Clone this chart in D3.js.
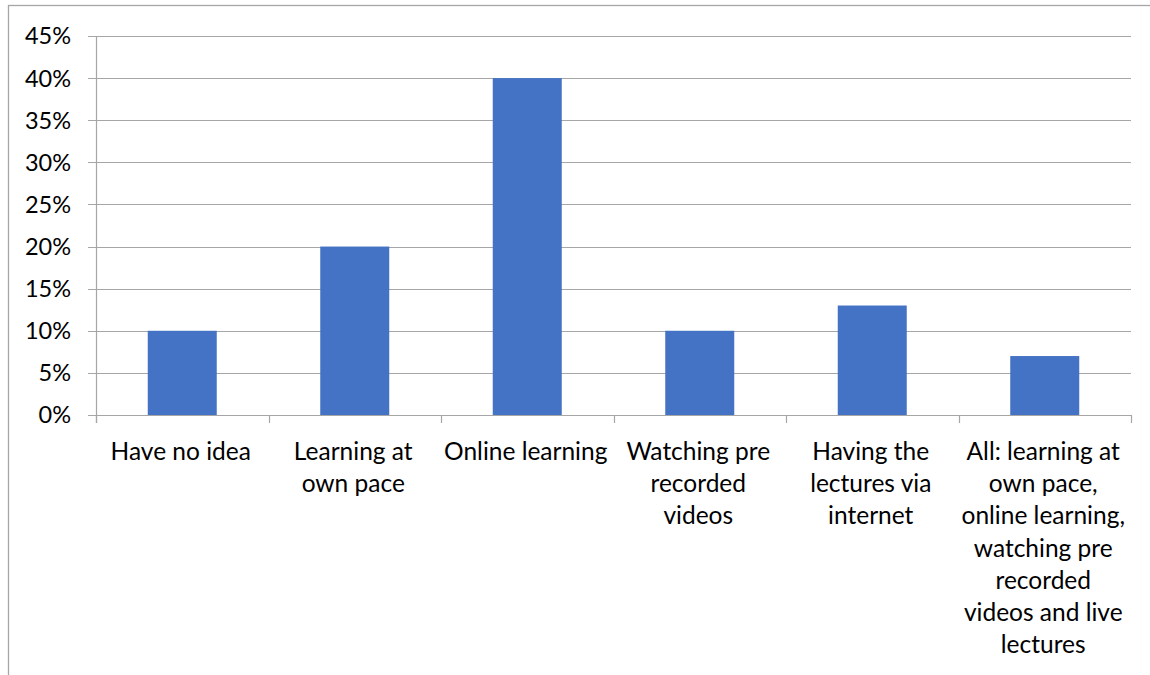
<!DOCTYPE html>
<html><head><meta charset="utf-8">
<script src="https://cdn.jsdelivr.net/npm/d3@7"></script>
<style>body{margin:0;background:#fff;} svg{display:block;}</style>
</head><body>
<svg id="c" width="1150" height="675"></svg>
<script>
const categories = [
  ["Have no idea"],
  ["Learning at", "own pace"],
  ["Online learning"],
  ["Watching pre", "recorded", "videos"],
  ["Having the", "lectures via", "internet"],
  ["All: learning at", "own pace,", "online learning,", "watching pre", "recorded", "videos and live", "lectures"]
];
const values = [10, 20, 40, 10, 13, 7];
const yTicks = [0, 5, 10, 15, 20, 25, 30, 35, 40, 45];

(function () {
const svg = d3.select("#c");
const font = "Lato, 'Open Sans', sans-serif";
const fsY = 23.5, fsX = 24.5;
const pLeft = 96, pRight = 1131, pTop = 36, pBottom = 415;

svg.append("rect").attr("x", 8.5).attr("y", 5.5).attr("width", 1160).attr("height", 700)
  .attr("fill", "none").attr("stroke", "#A6A6A6").attr("stroke-width", 1.3);

const x = d3.scaleBand().domain(d3.range(categories.length)).range([pLeft, pRight]).paddingInner(0.6).paddingOuter(0.3);
const xb = d3.scaleBand().domain(d3.range(categories.length)).range([pLeft, pRight]);
const y = d3.scaleLinear().domain([0, 45]).range([pBottom, pTop]);

svg.append("g").selectAll("line").data(yTicks).join("line")
  .attr("x1", pLeft - 8).attr("x2", pRight)
  .attr("y1", d => Math.round(y(d)) + 0.5).attr("y2", d => Math.round(y(d)) + 0.5)
  .attr("stroke", "#A6A6A6").attr("stroke-width", 1.2);

svg.append("g").selectAll("text").data(yTicks).join("text")
  .attr("x", 71).attr("y", d => y(d)).attr("dy", "0.36em")
  .attr("text-anchor", "end").attr("font-family", font).attr("font-size", fsY).attr("fill", "#000")
  .text(d => d + "%");

svg.append("g").selectAll("rect").data(values).join("rect")
  .attr("x", (d, i) => x(i)).attr("width", x.bandwidth())
  .attr("y", d => y(d)).attr("height", d => y(0) - y(d))
  .attr("fill", "#4472C4");

svg.append("line").attr("x1", pLeft + 0.5).attr("x2", pLeft + 0.5).attr("y1", pTop).attr("y2", pBottom + 8)
  .attr("stroke", "#A6A6A6").attr("stroke-width", 1.2);
svg.append("line").attr("x1", pLeft).attr("x2", pRight).attr("y1", pBottom + 0.5).attr("y2", pBottom + 0.5)
  .attr("stroke", "#A6A6A6").attr("stroke-width", 1.2);
const bounds = d3.range(categories.length + 1).map(i => i < categories.length ? xb(i) : pRight);
svg.append("g").selectAll("line").data(bounds).join("line")
  .attr("x1", d => Math.round(d) + 0.5).attr("x2", d => Math.round(d) + 0.5)
  .attr("y1", pBottom).attr("y2", pBottom + 8)
  .attr("stroke", "#A6A6A6").attr("stroke-width", 1.2);

const g = svg.append("g");
categories.forEach((lines, i) => {
  const t = g.append("text").attr("text-anchor", "middle").attr("font-family", font)
    .attr("font-size", fsX).attr("fill", "#000");
  lines.forEach((ln, j) => {
    t.append("tspan").attr("x", xb(i) + xb.bandwidth() / 2 - 1.5).attr("y", 460 + j * 32.2).text(ln);
  });
});
})();
</script>
</body></html>
